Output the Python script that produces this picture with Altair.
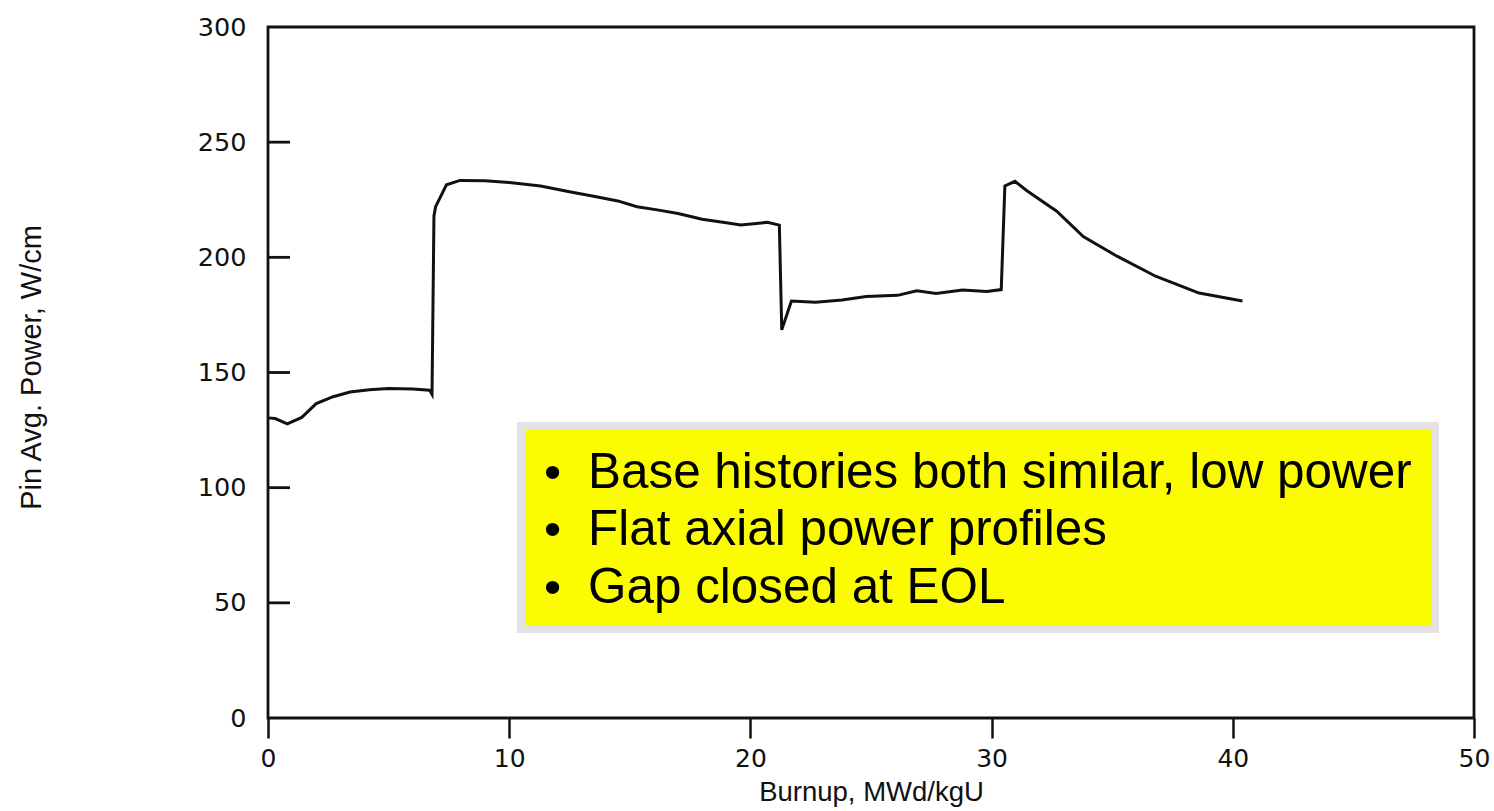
import altair as alt
import pandas as pd

# Pin-average power history versus burnup
burnup = [0.0, 0.3, 0.8, 1.4, 2.0, 2.7, 3.4, 4.2, 5.0, 6.0, 6.7, 6.8, 6.88, 6.95,
          7.4, 7.96, 9.0, 10.0, 11.3, 12.5, 13.5, 14.5, 15.3, 16.2, 17.0, 18.0,
          19.0, 19.6, 20.7, 21.2, 21.3, 21.7, 22.7, 23.8, 24.8, 26.1, 26.9, 27.7,
          28.8, 29.8, 30.4, 30.55, 30.97, 31.45, 32.7, 33.8, 35.2, 36.8, 38.6, 40.4]
power = [130.3, 130.0, 127.7, 130.5, 136.5, 139.5, 141.5, 142.5, 143.0, 142.8,
         142.3, 140.5, 218.0, 222.0, 231.5, 233.4, 233.2, 232.5, 231.0, 228.5,
         226.5, 224.5, 222.0, 220.5, 219.0, 216.5, 215.0, 214.0, 215.2, 214.0,
         168.5, 181.0, 180.5, 181.5, 183.0, 183.5, 185.5, 184.3, 185.8, 185.2,
         186.0, 231.0, 233.0, 229.0, 220.0, 209.0, 200.5, 191.8, 184.5, 181.0]

x_ticks = [0, 10, 20, 30, 40, 50]
y_ticks = [0, 50, 100, 150, 200, 250, 300]
inner_ticks = [50, 100, 150, 200, 250]

notes = [
    "Base histories both similar, low power",
    "Flat axial power profiles",
    "Gap closed at EOL",
]
note_y = [100, 75, 50]

W, H = 1206, 691
AX_FONT = "DejaVu Sans"
TITLE_FONT = "Liberation Sans, Arial, sans-serif"
TEXT_FONT = "Liberation Sans, Arial, sans-serif"
INK = "#111111"

curve = pd.DataFrame({"burnup": burnup, "power": power, "order": range(len(burnup))})

x_scale = alt.Scale(domain=[0, 50], nice=False, zero=False)
y_scale = alt.Scale(domain=[0, 300], nice=False, zero=False)

line = alt.Chart(curve).mark_line(color=INK, strokeWidth=3).encode(
    x=alt.X(
        "burnup:Q",
        scale=x_scale,
        axis=alt.Axis(
            values=x_ticks, format="d", grid=False, domain=False,
            tickSize=20, tickWidth=2.5, tickColor=INK,
            labelPadding=8, labelFont=AX_FONT, labelFontSize=25, labelColor=INK,
            labelBaseline="top", labelFlush=False,
            title="Burnup, MWd/kgU", titleFont=TITLE_FONT, titleFontSize=27.5,
            titleFontWeight="normal", titleColor=INK,
            titleX=603, titleY=74, titleBaseline="middle", titleAlign="center",
        ),
    ),
    y=alt.Y(
        "power:Q",
        scale=y_scale,
        axis=alt.Axis(
            values=y_ticks, format="d", grid=False, domain=False,
            ticks=False, tickSize=0,
            labelPadding=22, labelFont=AX_FONT, labelFontSize=25.5, labelColor=INK,
            labelFlush=False,
            title="Pin Avg. Power, W/cm", titleFont=TITLE_FONT, titleFontSize=29,
            titleFontWeight="normal", titleColor=INK,
            titleAngle=270, titleX=-237, titleY=340,
            titleBaseline="middle", titleAlign="center",
        ),
    ),
    order="order:Q",
)

# Tick marks drawn on the inside of the left frame
ticks_df = pd.DataFrame({"v": inner_ticks})
inner = alt.Chart(ticks_df).mark_rule(color=INK, strokeWidth=2.8).encode(
    y=alt.Y("v:Q", scale=y_scale),
    x=alt.value(0),
    x2=alt.value(22),
)

# Annotation panel
box_df = pd.DataFrame({
    "x0": [10.32, 10.66], "x1": [48.55, 48.26],
    "y0": [36.9, 39.9], "y1": [128.5, 125.1],
    "fill": ["#e3e3e3", "#fcfc00"], "k": [0, 1],
})
boxes = alt.Chart(box_df).mark_rect().encode(
    x=alt.X("x0:Q", scale=x_scale),
    x2="x1:Q",
    y=alt.Y("y0:Q", scale=y_scale),
    y2="y1:Q",
    fill=alt.Fill("fill:N", scale=None),
    order="k:Q",
)

notes_df = pd.DataFrame({"t": notes, "y": note_y, "xb": [11.8] * 3, "xt": [13.27] * 3})
bullets = alt.Chart(notes_df).mark_text(
    text="•", font=TEXT_FONT, fontSize=49, align="center", baseline="alphabetic",
    color="#000000",
).encode(x=alt.X("xb:Q", scale=x_scale), y=alt.Y("y:Q", scale=y_scale))
texts = alt.Chart(notes_df).mark_text(
    font=TEXT_FONT, fontSize=49.4, align="left", baseline="alphabetic", color="#000000",
).encode(x=alt.X("xt:Q", scale=x_scale), y=alt.Y("y:Q", scale=y_scale), text="t:N")

chart = alt.layer(line, inner, boxes, bullets, texts).properties(
    width=W, height=H,
    autosize=alt.AutoSizeParams(type="none"),
    padding={"left": 268, "top": 27, "right": 20, "bottom": 93},
    background="white",
).configure_view(
    stroke=INK, strokeWidth=2.8,
)

chart.save("out.html", embed_options={"renderer": "svg", "actions": False})
